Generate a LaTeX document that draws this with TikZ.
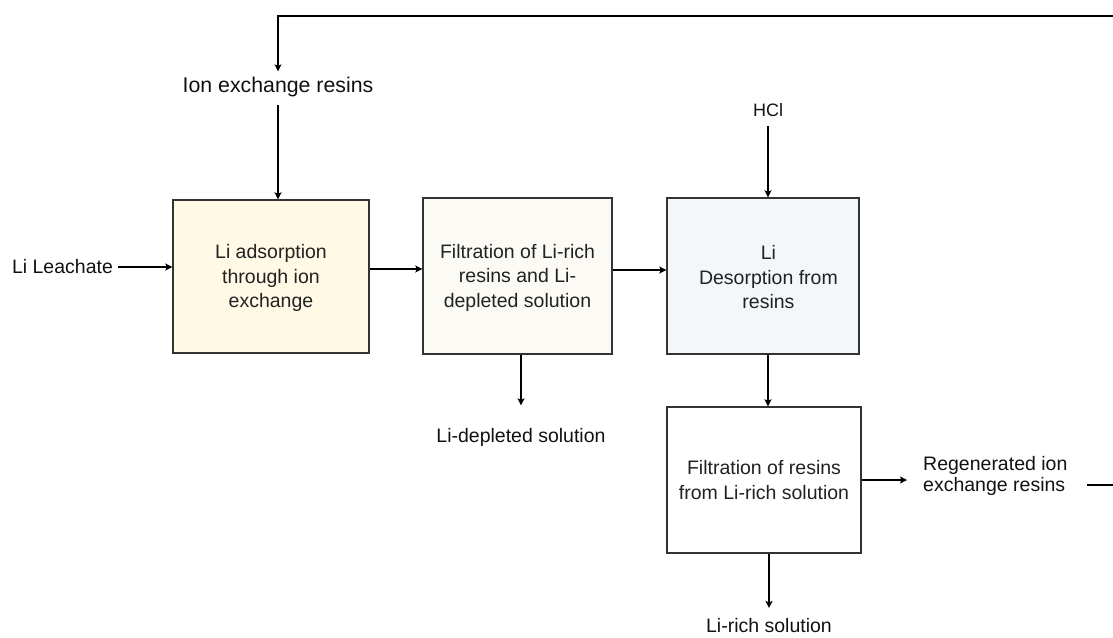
\documentclass[tikz,border=0pt]{standalone}
\usepackage{fontspec}
\setmainfont{Liberation Sans}
\usetikzlibrary{arrows.meta}
\definecolor{boxline}{HTML}{333333}
\definecolor{boxtext}{HTML}{222222}
\definecolor{lbltext}{HTML}{111111}
\definecolor{fillA}{HTML}{FFF9E6}
\definecolor{fillB}{HTML}{FBFAF5}
\definecolor{fillC}{HTML}{F3F7F9}
\begin{document}
\begin{tikzpicture}[x=1pt,y=-1pt,
  box/.style={draw=boxline, line width=1.4pt, align=center, text=boxtext,
    font=\fontsize{19.5}{24.5}\selectfont, inner sep=0pt},
  lbl/.style={text=lbltext, font=\fontsize{19.5}{20.5}\selectfont, inner sep=2pt},
  arr/.style={-{Stealth[length=7pt,width=7pt,inset=1.5pt]}, line width=1.2pt, draw=black}]
\clip (0,0) rectangle (1113,637);
% boxes
\node[box, fill=fillA, minimum width=196pt, minimum height=153pt] (b1) at (271,276.5)
  {\strut Li adsorption\\through ion\\exchange};
\node[box, fill=fillB, minimum width=189pt, minimum height=156pt] (b2) at (517.5,276)
  {\strut Filtration of Li-rich\\resins and Li-\\depleted solution};
\node[box, fill=fillC, minimum width=192pt, minimum height=156pt] (b3) at (763,276)
  {\strut\ \ Li\\\ \ Desorption from\\\ \ resins};
\node[box, fill=white, minimum width=194pt, minimum height=146pt] (b4) at (764,480)
  {Filtration of resins\\from Li-rich solution};
% labels
\node[lbl, font=\fontsize{21.3}{24}\selectfont] (ier) at (278,86.5) {Ion exchange resins};
\node[lbl] (leach) at (62.5,267) {Li Leachate};
\node[lbl, font=\fontsize{18}{20}\selectfont] (hcl) at (768,110.5) {HCl};
\node[lbl] (dep) at (521,437.7) {Li-depleted solution};
\node[lbl] (rich) at (769,625.8) {Li-rich solution};
\node[lbl, align=left, anchor=west] (regen) at (921,476) {Regenerated ion\\exchange resins};
% feedback loop coordinates
\coordinate (fbS) at (1087,485);
\coordinate (fbR) at (1130,485);
\coordinate (fbT) at (1130,16);
% connectors
\draw[arr, shorten <=3pt] (leach.east) -- (leach.east -| b1.west);
\draw[arr] (b1.east |- 0,269) -- (b2.west |- 0,269);
\draw[arr] (b2.east |- 0,270) -- (b3.west |- 0,270);
\draw[arr, shorten <=6pt] (ier.south) -- (ier.south |- b1.north);
\draw[arr, shorten <=7pt] (hcl.south) -- (hcl.south |- b3.north);
\draw[arr, shorten >=21pt] (dep.north |- b2.south) -- (dep.north);
\draw[arr] (hcl.south |- b3.south) -- (hcl.south |- b4.north);
\draw[arr, shorten >=8.5pt] (rich.north |- b4.south) -- (rich.north);
\draw[arr, shorten >=14pt] (b4.east) -- (b4.east -| regen.west);
\draw[arr, shorten >=3pt] (fbS) -- (fbR) -- (fbT) -- (ier.north |- fbT) -- (ier.north);
\end{tikzpicture}
\end{document}
